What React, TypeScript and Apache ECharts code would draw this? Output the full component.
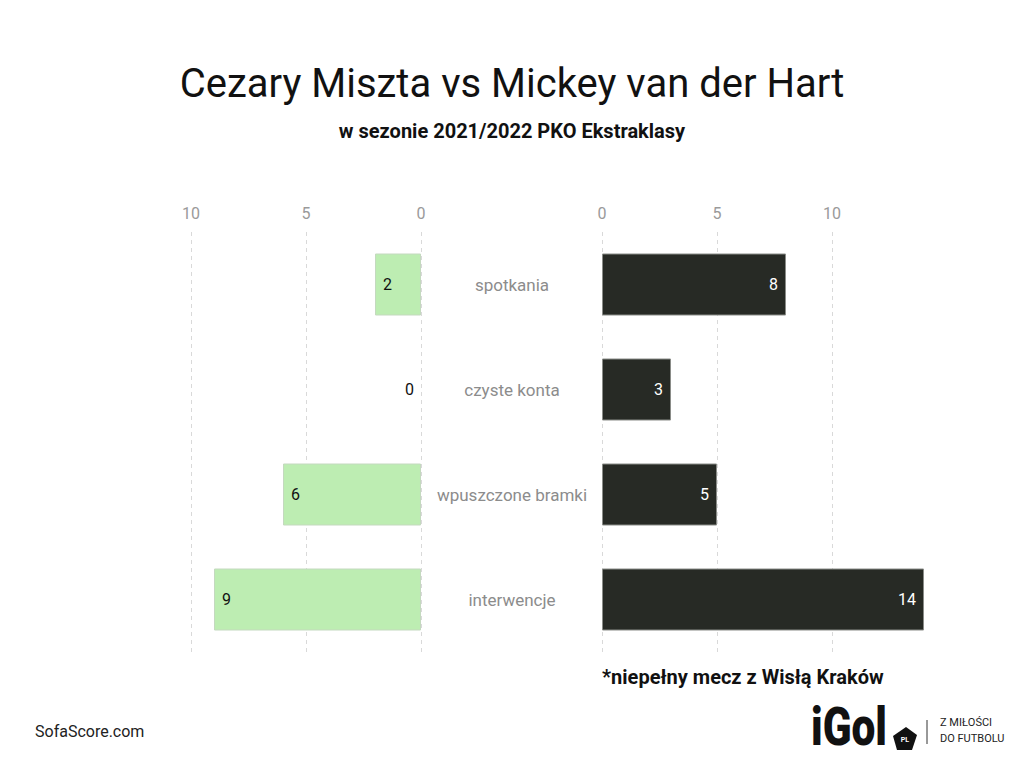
import React, { useEffect, useRef } from "react";
import * as echarts from "echarts";

const categories = ["spotkania", "czyste konta", "wpuszczone bramki", "interwencje"];
const misztaValues = [2, 0, 6, 9];
const vanDerHartValues = [8, 3, 5, 14];
const leftMax = 10;
const rightMax = 14;
const tickInterval = 5;

const title = "Cezary Miszta vs Mickey van der Hart";
const subtitle = "w sezonie 2021/2022 PKO Ekstraklasy";
const footnote = "*niepełny mecz z Wisłą Kraków";
const source = "SofaScore.com";

const FONT = "Roboto, 'Noto Sans', sans-serif";

export default function App() {
  const ref = useRef<HTMLDivElement>(null);
  useEffect(() => {
    if (!ref.current) return;
    const chart = echarts.init(ref.current, undefined, { renderer: "svg" });
    const splitDash = {
      show: true,
      lineStyle: { type: [4, 4] as any, color: "#d9d9d9", width: 1 },
    };
    const option: any = {
      animation: false,
      backgroundColor: "#ffffff",
      textStyle: { fontFamily: FONT },
      grid: [
        { left: 191, width: 230, top: 232, height: 420 },
        { left: 602, width: 322, top: 232, height: 420 },
      ],
      xAxis: [
        {
          gridIndex: 0,
          type: "value",
          inverse: true,
          min: 0,
          max: leftMax,
          interval: tickInterval,
          position: "top",
          axisLine: { show: false },
          axisTick: { show: false },
          axisLabel: { color: "#9a9a9a", fontSize: 16, margin: 11, fontFamily: FONT },
          splitLine: splitDash,
        },
        {
          gridIndex: 1,
          type: "value",
          min: 0,
          max: rightMax,
          interval: tickInterval,
          position: "top",
          axisLine: { show: false },
          axisTick: { show: false },
          axisLabel: {
            color: "#9a9a9a",
            fontSize: 16,
            margin: 11,
            fontFamily: FONT,
            showMaxLabel: false,
            formatter: (v: number) => (v % tickInterval === 0 ? String(v) : ""),
          },
          splitLine: {
            show: true,
            lineStyle: {
              type: [4, 4] as any,
              color: ["#d9d9d9", "#d9d9d9", "#d9d9d9", "rgba(0,0,0,0)"],
              width: 1,
            },
          },
        },
      ],
      yAxis: [
        {
          gridIndex: 0,
          type: "category",
          data: categories,
          inverse: true,
          position: "right",
          axisLine: { show: false },
          axisTick: { show: false },
          axisLabel: {
            align: "center",
            margin: 91,
            color: "#8c8c8c",
            fontSize: 17,
            fontFamily: FONT,
          },
        },
        {
          gridIndex: 1,
          type: "category",
          data: categories,
          inverse: true,
          axisLine: { show: false },
          axisTick: { show: false },
          axisLabel: { show: false },
        },
      ],
      series: [
        {
          type: "bar",
          xAxisIndex: 0,
          yAxisIndex: 0,
          barWidth: 62,
          data: misztaValues.map((v) =>
            v === 0
              ? {
                  value: v,
                  itemStyle: { borderWidth: 0 },
                  label: { position: "left", distance: 7 },
                }
              : { value: v }
          ),
          itemStyle: { color: "#bdedb2", borderColor: "#c4d9bf", borderWidth: 1 },
          label: {
            show: true,
            position: "insideLeft",
            distance: 8,
            color: "#111111",
            fontSize: 16,
            fontFamily: FONT,
          },
        },
        {
          type: "bar",
          xAxisIndex: 1,
          yAxisIndex: 1,
          barWidth: 62,
          data: vanDerHartValues,
          itemStyle: { color: "#272a25", borderColor: "#8a8c88", borderWidth: 1 },
          label: {
            show: true,
            position: "insideRight",
            distance: 8,
            color: "#ffffff",
            fontSize: 16,
            fontFamily: FONT,
          },
        },
      ],
      graphic: [
        {
          type: "text",
          left: "center",
          top: 63,
          style: { text: title, fontSize: 40, fill: "#111", fontFamily: FONT },
        },
        {
          type: "text",
          left: "center",
          top: 121,
          style: { text: subtitle, fontSize: 20, fontWeight: "bold", fill: "#111", fontFamily: FONT },
        },
        {
          type: "text",
          x: 602,
          y: 667,
          style: { text: footnote, fontSize: 20, fontWeight: "bold", fill: "#111", fontFamily: FONT },
        },
        {
          type: "text",
          x: 35,
          y: 723,
          style: { text: source, fontSize: 16, fill: "#222", fontFamily: FONT },
        },
        {
          type: "text",
          x: 811,
          y: 700,
          scaleX: 0.8,
          style: { text: "iGol", fontSize: 53, fontWeight: 900, fill: "#111", fontFamily: FONT },
        },
        {
          type: "polygon",
          shape: { points: [[893, 736], [906, 727], [917, 735], [912, 750], [897, 750]] },
          style: { fill: "#111" },
        },
        {
          type: "text",
          x: 905,
          y: 740,
          style: { text: "PL", fontSize: 7, fontWeight: "bold", fill: "#fff", align: "center", verticalAlign: "middle", fontFamily: FONT },
        },
        {
          type: "line",
          shape: { x1: 927, y1: 720, x2: 927, y2: 744 },
          style: { stroke: "#333", lineWidth: 1 },
        },
        {
          type: "text",
          x: 940,
          y: 717,
          style: { text: "Z MIŁOŚCI", fontSize: 11, fill: "#222", fontFamily: FONT },
        },
        {
          type: "text",
          x: 940,
          y: 733,
          style: { text: "DO FUTBOLU", fontSize: 11, fill: "#222", fontFamily: FONT },
        },
      ],
    };
    chart.setOption(option);
    return () => chart.dispose();
  }, []);
  return (
    <div
      ref={ref}
      style={{ position: "absolute", left: 0, top: 0, width: 1024, height: 768 }}
    />
  );
}
